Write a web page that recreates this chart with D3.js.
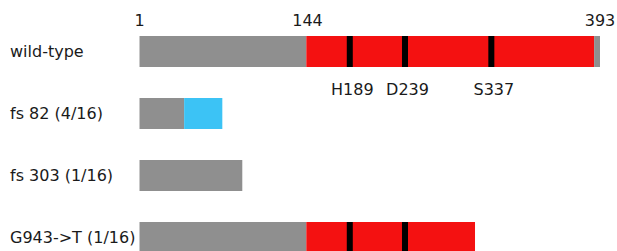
<!DOCTYPE html>
<html>
<head>
<meta charset="utf-8">
<script src="https://cdn.jsdelivr.net/npm/d3@7"></script>
<style>
  body { margin: 0; background: #fff; }
  text { font-family: "DejaVu Sans", sans-serif; font-size: 16px; fill: #1a1a1a; }
</style>
</head>
<body>
<svg id="chart"></svg>
<script>
// rows (top to bottom)
var rows = ["wild-type", "fs 82 (4/16)", "fs 303 (1/16)", "G943->T (1/16)"];

// segments of each protein: row index, start / end residue, kind
var segRow   = [0, 0, 0, 1, 1, 2, 3, 3];
var segStart = [1, 143, 388, 1, 39, 1, 1, 143];
var segEnd   = [143, 388, 393, 39, 71.5, 88.5, 143, 286.6];
var segKind  = ["n", "domain", "n", "n", "frameshift", "n", "n", "domain"];

// catalytic residues (black marks) and which rows keep them
var siteNames = ["H189", "D239", "S337"];
var sitePos   = [180, 227, 300.5];
var siteRows  = [[0, 1, 2], [], [], [0, 1]];

// numbering shown above the wild-type
var tickVals = [1, 144, 393];

var width = 617, height = 251;
var svg = d3.select("#chart").attr("width", width).attr("height", height);

var colors = { n: "#8f8f8f", domain: "#f41111", frameshift: "#3cc3f5" };

var x = d3.scaleLinear().domain([1, 393]).range([139.5, 600]);
var y = d3.scaleBand().domain(d3.range(rows.length)).range([36, 36 + 62 * 4]);
var barH = 31;

//Row labels
svg.selectAll(".rowLabel")
    .data(rows)
    .enter()
    .append("text")
    .attr("x", 10)
    .attr("y", function(d, i){ return y(i) + 21; })
    .text(function(d){ return d; });

//Protein segments
svg.selectAll(".seg")
    .data(d3.range(segStart.length))
    .enter()
    .append("rect")
    .attr("x", function(i){ return x(segStart[i]); })
    .attr("y", function(i){ return y(segRow[i]); })
    .attr("width", function(i){ return x(segEnd[i]) - x(segStart[i]); })
    .attr("height", barH)
    .attr("fill", function(i){ return colors[segKind[i]]; });

//Site marks
siteRows.forEach(function(sites, r){
    svg.selectAll(".site" + r)
        .data(sites)
        .enter()
        .append("rect")
        .attr("x", function(s){ return x(sitePos[s]) - 3; })
        .attr("y", y(r))
        .attr("width", 6)
        .attr("height", barH)
        .attr("fill", "#000");
});

//Site labels under wild-type
svg.selectAll(".siteLabel")
    .data(siteNames)
    .enter()
    .append("text")
    .attr("x", function(d, i){ return x(sitePos[i]) + 2.5; })
    .attr("y", 95)
    .attr("text-anchor", "middle")
    .text(function(d){ return d; });

//Residue numbers
svg.selectAll(".tick")
    .data(tickVals)
    .enter()
    .append("text")
    .attr("x", function(d){ return x(d); })
    .attr("y", 26)
    .attr("text-anchor", "middle")
    .text(function(d){ return d; });
</script>
</body>
</html>
